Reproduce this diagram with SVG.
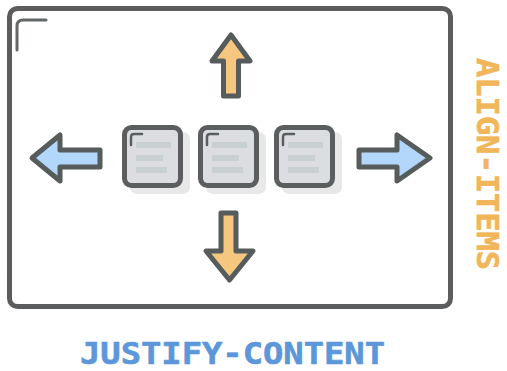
<svg xmlns="http://www.w3.org/2000/svg" width="507" height="371" viewBox="0 0 507 371">
<defs>
<style>
.frame{fill:#ffffff;stroke:#5a5c5d;stroke-width:5}
.accent{fill:none;stroke:#646768;stroke-width:3;stroke-linecap:round}
.box{fill:#dcdde1;stroke:#5a5e5f;stroke-width:5}
.shadow{fill:#e8e8e9}
.bar{fill:#c9d0d0}
.baccent{fill:none;stroke:#5a5e5f;stroke-width:2.5;stroke-linecap:round}
.arrowO{fill:#f6c87f;stroke:#565b5b;stroke-width:5;stroke-linejoin:round}
.arrowB{fill:#b3d6fb;stroke:#565b5b;stroke-width:5;stroke-linejoin:round}
.lbl{font-family:"DejaVu Sans Mono","Liberation Mono",monospace;font-weight:bold;font-size:31px;stroke-width:0.6}
</style>
</defs>
<g id="frame">
<rect class="frame" x="9.5" y="8.5" width="441" height="298" rx="8"/>
<path class="accent" d="M17,50 V26 Q17,20 23,20 H46"/>
</g>
<g id="box1">
<rect class="shadow" x="130" y="132" width="60" height="62" rx="7"/>
<rect class="box" x="124.5" y="127.5" width="56" height="58" rx="7"/>
<path class="baccent" d="M131,145 V137 Q131,134 134,134 H142"/>
<rect class="bar" x="136" y="142" width="35" height="6"/>
<rect class="bar" x="136" y="155" width="27" height="6"/>
<rect class="bar" x="136" y="167" width="31" height="6"/>
</g>
<g id="box2">
<rect class="shadow" x="206" y="132" width="60" height="62" rx="7"/>
<rect class="box" x="200.5" y="127.5" width="56" height="58" rx="7"/>
<path class="baccent" d="M207,145 V137 Q207,134 210,134 H218"/>
<rect class="bar" x="212" y="142" width="35" height="6"/>
<rect class="bar" x="212" y="155" width="27" height="6"/>
<rect class="bar" x="212" y="167" width="31" height="6"/>
</g>
<g id="box3">
<rect class="shadow" x="282" y="132" width="60" height="62" rx="7"/>
<rect class="box" x="276.5" y="127.5" width="56" height="58" rx="7"/>
<path class="baccent" d="M283,145 V137 Q283,134 286,134 H294"/>
<rect class="bar" x="288" y="142" width="35" height="6"/>
<rect class="bar" x="288" y="155" width="27" height="6"/>
<rect class="bar" x="288" y="167" width="31" height="6"/>
</g>
<g id="connectors">
<path id="arrow-up" class="arrowO" d="M231,35 L250,61 H238.5 V96 H223.5 V61 H212 Z"/>
<path id="arrow-down" class="arrowO" d="M221,213 H236 V251 H253 L229.5,280 L206,251 H221 Z"/>
<path id="arrow-left" class="arrowB" d="M32,158 L60,135 V150 H100 V167 H60 V181 Z"/>
<path id="arrow-right" class="arrowB" d="M430,158 L397,135 V150 H359 V167 H397 V181 Z"/>
</g>
<g id="labels">
<text class="lbl" x="80" y="364" fill="#5b97d9" stroke="#5b97d9" textLength="305" lengthAdjust="spacingAndGlyphs">JUSTIFY-CONTENT</text>
<text class="lbl" transform="translate(477,58) rotate(90)" x="0" y="0" fill="#f1b55a" stroke="#f1b55a" textLength="212" lengthAdjust="spacingAndGlyphs">ALIGN-ITEMS</text>
</g>
</svg>
